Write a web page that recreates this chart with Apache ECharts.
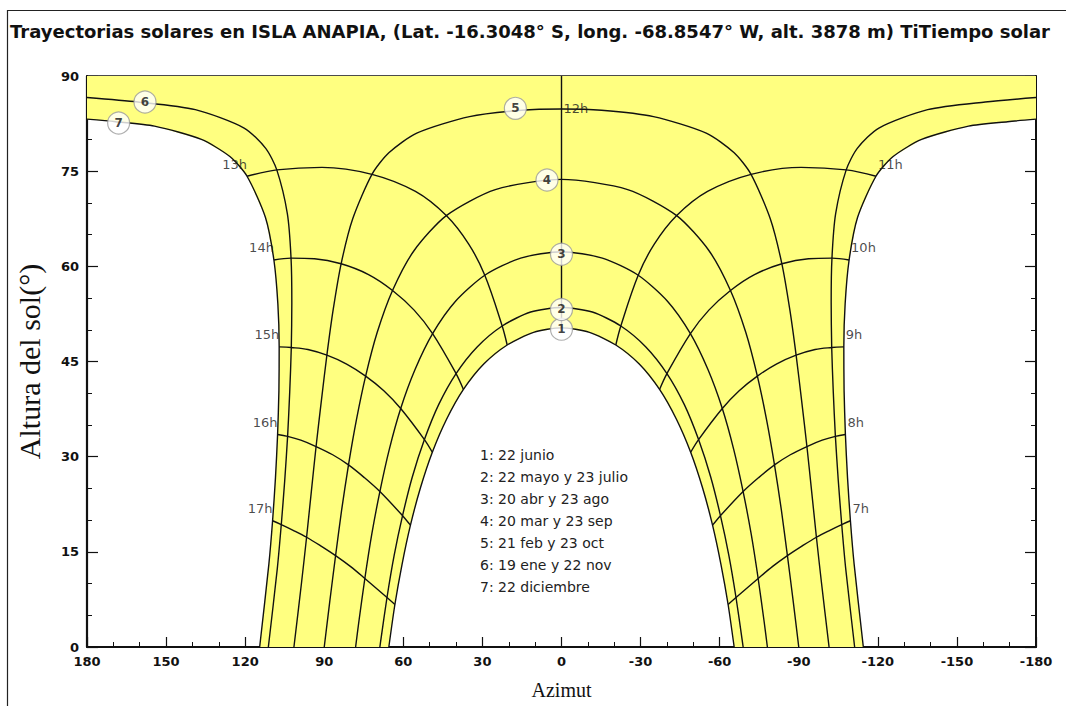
<!DOCTYPE html>
<html><head><meta charset="utf-8">
<script src="https://cdn.jsdelivr.net/npm/echarts@6/dist/echarts.min.js"></script>
<style>html,body{margin:0;padding:0;background:#fff}#c{width:1066px;height:706px}</style>
</head><body><div id="c"></div>
<script>
const titulo = 'Trayectorias solares en ISLA ANAPIA, (Lat. -16.3048° S, long. -68.8547° W, alt. 3878 m) TiTiempo solar';
const leyenda = ['1: 22 junio','2: 22 mayo y 23 julio','3: 20 abr y 23 ago','4: 20 mar y 23 sep','5: 21 feb y 23 oct','6: 19 ene y 22 nov','7: 22 diciembre'];

// Day curves: [azimut, altura]
const dia1 = [[-65.5,0],[-63.2,6.7],[-60.5,13.0],[-57.3,19.2],[-53.5,25.1],[-49.0,30.7],[-43.6,35.9],[-37.2,40.6],[-29.5,44.6],[-20.6,47.6],[-10.6,49.6],[0,50.3],[10.6,49.6],[20.6,47.6],[29.5,44.6],[37.2,40.6],[43.6,35.9],[49.0,30.7],[53.5,25.1],[57.3,19.2],[60.5,13.0],[63.2,6.7],[65.5,0]];
const dia2 = [[-68.9,0],[-68.5,1.2],[-66.2,7.8],[-63.5,14.4],[-60.3,20.7],[-56.6,26.8],[-52.0,32.7],[-46.6,38.2],[-40.0,43.1],[-32.0,47.3],[-22.5,50.6],[-11.7,52.8],[0,53.5],[11.7,52.8],[22.5,50.6],[32.0,47.3],[40.0,43.1],[46.6,38.2],[52.0,32.7],[56.6,26.8],[60.3,20.7],[63.5,14.4],[66.2,7.8],[68.5,1.2],[68.9,0]];
const dia3 = [[-78.1,0],[-76.9,3.9],[-74.6,10.8],[-72.0,17.7],[-68.9,24.5],[-65.3,31.2],[-61.0,37.6],[-55.6,43.7],[-48.9,49.4],[-40.2,54.5],[-29.1,58.6],[-15.5,61.3],[0,62.3],[15.5,61.3],[29.1,58.6],[40.2,54.5],[48.9,49.4],[55.6,43.7],[61.0,37.6],[65.3,31.2],[68.9,24.5],[72.0,17.7],[74.6,10.8],[76.9,3.9],[78.1,0]];
const dia4 = [[-90,0],[-87.9,7.2],[-85.7,14.4],[-83.4,21.6],[-80.8,28.7],[-77.8,35.8],[-74.3,42.7],[-69.9,49.6],[-64.1,56.2],[-55.9,62.5],[-43.7,68.0],[-25.1,72.1],[0,73.7],[25.1,72.1],[43.7,68.0],[55.9,62.5],[64.1,56.2],[69.9,49.6],[74.3,42.7],[77.8,35.8],[80.8,28.7],[83.4,21.6],[85.7,14.4],[87.9,7.2],[90,0]];
const dia5 = [[-101.5,0],[-98.6,10.2],[-96.7,17.3],[-94.9,24.5],[-93.1,31.6],[-91.1,38.8],[-89.0,46.0],[-86.6,53.2],[-83.6,60.4],[-79.2,67.5],[-71.9,74.5],[-65.5,77.9],[-54.9,81.0],[-34.9,83.6],[-15.2,84.6],[0,84.8],[15.2,84.6],[34.9,83.6],[54.9,81.0],[65.5,77.9],[71.9,74.5],[79.2,67.5],[83.6,60.4],[86.6,53.2],[89.0,46.0],[91.1,38.8],[93.1,31.6],[94.9,24.5],[96.7,17.3],[98.6,10.2],[101.5,0]];
const dia6Manana = [[-111.2,0],[-107.8,12.4],[-106.3,19.3],[-105.0,26.2],[-103.9,33.2],[-103.1,40.2],[-102.5,47.2],[-102.3,54.3],[-102.6,61.3],[-104.0,68.3],[-108.0,75.2],[-112.2,78.6],[-120.4,81.8],[-138.9,84.7],[-160.7,85.9],[-180,86.6]];
const dia6Tarde = [[180,86.6],[160.7,85.9],[138.9,84.7],[120.4,81.8],[112.2,78.6],[108.0,75.2],[104.0,68.3],[102.6,61.3],[102.3,54.3],[102.5,47.2],[103.1,40.2],[103.9,33.2],[105.0,26.2],[106.3,19.3],[107.8,12.4],[111.2,0]];
const dia7Manana = [[-114.5,0],[-111.0,13.1],[-109.6,19.9],[-108.5,26.7],[-107.7,33.5],[-107.2,40.4],[-107.1,47.3],[-107.6,54.1],[-109.1,61.0],[-112.3,67.7],[-119.3,74.2],[-125.8,77.3],[-136.6,80.0],[-154.4,82.1],[-169.2,82.8],[-180,83.2]];
const dia7Tarde = [[180,83.2],[169.2,82.8],[154.4,82.1],[136.6,80.0],[125.8,77.3],[119.3,74.2],[112.3,67.7],[109.1,61.0],[107.6,54.1],[107.1,47.3],[107.2,40.4],[107.7,33.5],[108.5,26.7],[109.6,19.9],[111.0,13.1],[114.5,0]];

// Hour lines (from curve 1 to curve 7)
const h7  = [[-63.2,6.7],[-66.2,7.8],[-74.6,10.8],[-80.1,12.7],[-85.7,14.4],[-91.2,15.9],[-96.7,17.3],[-101.8,18.4],[-106.3,19.3],[-109.6,19.9]];
const h8  = [[-57.3,19.2],[-60.3,20.7],[-68.9,24.5],[-74.8,26.7],[-80.8,28.7],[-86.8,30.3],[-93.1,31.6],[-98.9,32.6],[-103.9,33.2],[-107.7,33.5]];
const h9  = [[-49.0,30.7],[-52.0,32.7],[-61.0,37.6],[-67.4,40.4],[-74.3,42.7],[-81.5,44.6],[-89.0,46.0],[-96.2,46.9],[-102.5,47.2],[-107.1,47.3]];
const h10 = [[-37.2,40.6],[-40.0,43.1],[-48.9,49.4],[-55.9,53.1],[-64.1,56.2],[-73.2,58.7],[-83.6,60.4],[-93.7,61.2],[-102.6,61.3],[-109.1,61.0]];
const h11 = [[-20.6,47.6],[-22.5,50.6],[-29.1,58.6],[-35.2,63.5],[-43.7,68.0],[-55.4,71.8],[-71.9,74.5],[-90.9,75.6],[-108.0,75.2],[-119.3,74.2]];
const h12 = [[0,50.3],[0,90]];
const h13 = [[20.6,47.6],[22.5,50.6],[29.1,58.6],[35.2,63.5],[43.7,68.0],[55.4,71.8],[71.9,74.5],[90.9,75.6],[108.0,75.2],[119.3,74.2]];
const h14 = [[37.2,40.6],[40.0,43.1],[48.9,49.4],[55.9,53.1],[64.1,56.2],[73.2,58.7],[83.6,60.4],[93.7,61.2],[102.6,61.3],[109.1,61.0]];
const h15 = [[49.0,30.7],[52.0,32.7],[61.0,37.6],[67.4,40.4],[74.3,42.7],[81.5,44.6],[89.0,46.0],[96.2,46.9],[102.5,47.2],[107.1,47.3]];
const h16 = [[57.3,19.2],[60.3,20.7],[68.9,24.5],[74.8,26.7],[80.8,28.7],[86.8,30.3],[93.1,31.6],[98.9,32.6],[103.9,33.2],[107.7,33.5]];
const h17 = [[63.2,6.7],[66.2,7.8],[74.6,10.8],[80.1,12.7],[85.7,14.4],[91.2,15.9],[96.7,17.3],[101.8,18.4],[106.3,19.3],[109.6,19.9]];

const horasManana = ['7h','8h','9h','10h','11h'];
const horasTarde = ['13h','14h','15h','16h','17h'];
const etiquetaMediodia = ['12h', 0, 84.8];

// Circled curve numbers
const numerosDias = ['1','2','3','4','5','6','7'];
const posNumeros = [[0,50.1],[0,53.2],[0,61.9],[5.5,73.6],[17.5,84.9],[158,85.9],[168,82.6]];

const chart = echarts.init(document.getElementById('c'), null, {renderer:'svg'});

const lineColor = '#111';
const curvas = [dia1,dia2,dia3,dia4,dia5,dia6Manana,dia6Tarde,dia7Manana,dia7Tarde];
const lineasHora = [h7,h8,h9,h10,h11,h12,h13,h14,h15,h16,h17];

const series = [];
series.push({
  type:'custom', coordinateSystem:'cartesian2d', silent:true, z:1,
  data:[[0,0]],
  renderItem:function(params, api){
    const pts = dia7Tarde.slice().reverse()
      .concat([[180,90],[-180,90]], dia7Manana.slice().reverse(), dia1)
      .map(p => api.coord(p));
    return {type:'polygon', shape:{points:pts}, style:{fill:'#FFFF80', stroke:'none'}};
  }
});
curvas.forEach(c => series.push({
  type:'line', data:c, showSymbol:false, smooth:0.25, z:3, silent:true,
  lineStyle:{color:lineColor, width:1.4}
}));
lineasHora.forEach(c => series.push({
  type:'line', data:c, showSymbol:false, smooth:0.35, z:3, silent:true,
  lineStyle:{color:lineColor, width:1.4}
}));
const labFont = {fontFamily:'DejaVu Sans', fontSize:13, color:'#1a1a1a'};
series.push({
  type:'scatter', symbolSize:0, z:5, silent:true,
  data: horasTarde.map((t,i) => ({value:[h13,h14,h15,h16,h17][i].slice(-1)[0], name:t})),
  label:Object.assign({show:true, formatter:'{b}', position:[0,-12], align:'right', verticalAlign:'middle'}, labFont)
});
series.push({
  type:'scatter', symbolSize:0, z:5, silent:true,
  data: horasManana.map((t,i) => ({value:[h7,h8,h9,h10,h11][i].slice(-1)[0], name:t})),
  label:Object.assign({show:true, formatter:'{b}', position:[2,-12], align:'left', verticalAlign:'middle'}, labFont)
});
series.push({
  type:'scatter', symbolSize:0, z:5, silent:true,
  data:[{value:[etiquetaMediodia[1], etiquetaMediodia[2]], name:etiquetaMediodia[0]}],
  label:Object.assign({show:true, formatter:'{b}', position:[2,0], align:'left', verticalAlign:'middle'}, labFont)
});
series.push({
  type:'scatter', symbol:'circle', symbolSize:22, z:6, silent:true,
  itemStyle:{color:'#fff', borderColor:'#9a9a9a', borderWidth:1.2},
  data: numerosDias.map((n,i) => ({value:posNumeros[i], name:n})),
  label:{show:true, position:'inside', formatter:'{b}', fontFamily:'DejaVu Sans', fontWeight:'bold', fontSize:12, color:'#111'}
});

const tickLabel = {fontFamily:'DejaVu Sans', fontWeight:'bold', fontSize:13, color:'#111'};
chart.setOption({
  animation:false,
  backgroundColor:'#fff',
  grid:{left:87, right:30, top:76, bottom:59, containLabel:false, outerBoundsMode:'none'},
  xAxis:[{
    type:'value', min:-180, max:180, interval:30, inverse:true, position:'bottom',
    name:'Azimut', nameLocation:'middle', nameGap:33,
    nameTextStyle:{fontFamily:'Liberation Serif', fontSize:20, color:'#111'},
    axisLine:{show:true, onZero:false, lineStyle:{color:'#111', width:2.2}},
    axisTick:{show:true, inside:true, length:10, lineStyle:{color:'#111', width:1.2}},
    minorTick:{show:true, splitNumber:3, length:5, lineStyle:{color:'#111', width:1}},
    axisLabel:Object.assign({margin:8}, tickLabel),
    splitLine:{show:false}, minorSplitLine:{show:false}
  },{
    type:'value', min:-180, max:180, inverse:true, position:'top',
    axisLine:{show:true, onZero:false, lineStyle:{color:'#111', width:1.5}},
    axisTick:{show:false}, axisLabel:{show:false}, splitLine:{show:false}
  }],
  yAxis:[{
    type:'value', min:0, max:90, interval:15, position:'left',
    name:'Altura del sol(°)', nameLocation:'middle', nameGap:43, nameRotate:90,
    nameTextStyle:{fontFamily:'Liberation Serif', fontSize:30, color:'#111'},
    axisLine:{show:true, onZero:false, lineStyle:{color:'#111', width:2.2}},
    axisTick:{show:true, inside:true, length:11, lineStyle:{color:'#111', width:1.2}},
    minorTick:{show:true, splitNumber:3, length:5, lineStyle:{color:'#111', width:1}},
    axisLabel:Object.assign({margin:8}, tickLabel),
    splitLine:{show:false}, minorSplitLine:{show:false}
  },{
    type:'value', min:0, max:90, interval:15, position:'right',
    axisLine:{show:true, onZero:false, lineStyle:{color:'#111', width:2}},
    axisTick:{show:true, inside:true, length:11, lineStyle:{color:'#111', width:1.2}},
    minorTick:{show:true, splitNumber:3, length:5, lineStyle:{color:'#111', width:1}},
    axisLabel:{show:false}, splitLine:{show:false}
  }],
  graphic:[
    {type:'rect', z:0, shape:{x:7.5, y:10.5, width:1080, height:720}, style:{fill:'none', stroke:'#222', lineWidth:1.2}},
    {type:'text', left:10, top:22, style:{text:titulo, font:'bold 18px "DejaVu Sans"', fill:'#111'}},
    {type:'text', left:480, top:444, z:10, style:{text:leyenda.join('\n'), font:'14px "DejaVu Sans"', lineHeight:22, fill:'#222'}}
  ],
  series:series
});
</script></body></html>
